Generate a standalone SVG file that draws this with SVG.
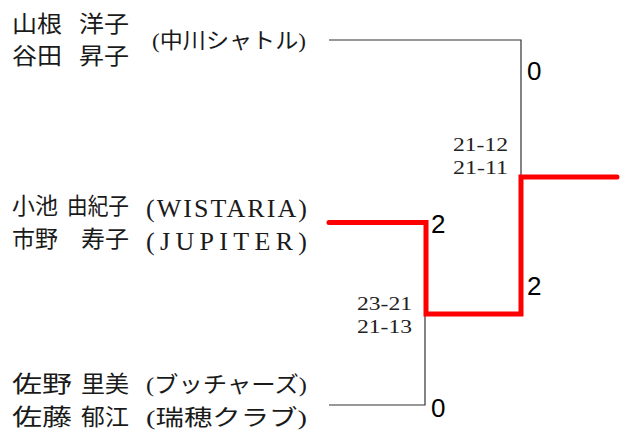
<svg xmlns="http://www.w3.org/2000/svg" width="623" height="439" viewBox="0 0 623 439">
<style>
.nm{font-family:"Liberation Serif","Noto Sans CJK JP",serif;font-size:23px;fill:#1a1a1a}
.af{font-family:"Liberation Serif","Noto Sans CJK JP",serif;font-size:22px;fill:#1a1a1a}
.lat{font-family:"Liberation Serif",serif;font-size:26px;fill:#1a1a1a}
.sc{font-family:"Liberation Serif",serif;font-size:19px;fill:#222}
.pt{font-family:"Liberation Sans",Arial,sans-serif;font-size:26px;fill:#000}
.thin{fill:none;stroke:#333;stroke-width:1.2}
.win{fill:none;stroke:#ff0000;stroke-width:5;stroke-linecap:round;stroke-linejoin:miter}
</style>
<rect width="623" height="439" fill="#fff"/>
<g id="connectors">
<path class="thin" d="M329,40 H521 V176"/>
<path class="thin" d="M329,405 H425 V314"/>
<path class="win" d="M329,222.5 H426 V314 H521 V177 H617"/>
</g>
<g id="team1">
<text class="nm" x="12" y="32" textLength="50" lengthAdjust="spacingAndGlyphs">山根</text>
<text class="nm" x="79" y="32" textLength="50" lengthAdjust="spacingAndGlyphs">洋子</text>
<text class="nm" x="12" y="64" textLength="50" lengthAdjust="spacingAndGlyphs">谷田</text>
<text class="nm" x="79" y="64" textLength="50" lengthAdjust="spacingAndGlyphs">昇子</text>
<text class="af" x="152" y="48" textLength="154" lengthAdjust="spacingAndGlyphs">(中川シャトル)</text>
</g>
<g id="team2">
<text class="nm" x="12" y="214" textLength="46" lengthAdjust="spacingAndGlyphs">小池</text>
<text class="nm" x="67" y="214" textLength="62" lengthAdjust="spacingAndGlyphs">由紀子</text>
<text class="nm" x="12" y="247" textLength="46" lengthAdjust="spacingAndGlyphs">市野</text>
<text class="nm" x="81" y="247" textLength="48" lengthAdjust="spacingAndGlyphs">寿子</text>
<text class="lat" x="146" y="217" textLength="161" lengthAdjust="spacing">(WISTARIA)</text>
<text class="lat" x="146" y="250" textLength="161" lengthAdjust="spacing">(JUPITER)</text>
</g>
<g id="team3">
<text class="nm" x="12" y="392" textLength="60" lengthAdjust="spacingAndGlyphs">佐野</text>
<text class="nm" x="81" y="392" textLength="48" lengthAdjust="spacingAndGlyphs">里美</text>
<text class="nm" x="12" y="425" textLength="60" lengthAdjust="spacingAndGlyphs">佐藤</text>
<text class="nm" x="81" y="425" textLength="48" lengthAdjust="spacingAndGlyphs">郁江</text>
<text class="af" x="146" y="392" textLength="161" lengthAdjust="spacingAndGlyphs">(ブッチャーズ)</text>
<text class="af" x="146" y="425" textLength="161" lengthAdjust="spacingAndGlyphs">(瑞穂クラブ)</text>
</g>
<g id="scores">
<text class="sc" x="453" y="151" textLength="55" lengthAdjust="spacingAndGlyphs">21-12</text>
<text class="sc" x="453" y="174" textLength="55" lengthAdjust="spacingAndGlyphs">21-11</text>
<text class="sc" x="357" y="310" textLength="55" lengthAdjust="spacingAndGlyphs">23-21</text>
<text class="sc" x="357" y="333" textLength="55" lengthAdjust="spacingAndGlyphs">21-13</text>
<text class="pt" x="527" y="80">0</text>
<text class="pt" x="431" y="233">2</text>
<text class="pt" x="527" y="295">2</text>
<text class="pt" x="431" y="417">0</text>
</g>
</svg>
